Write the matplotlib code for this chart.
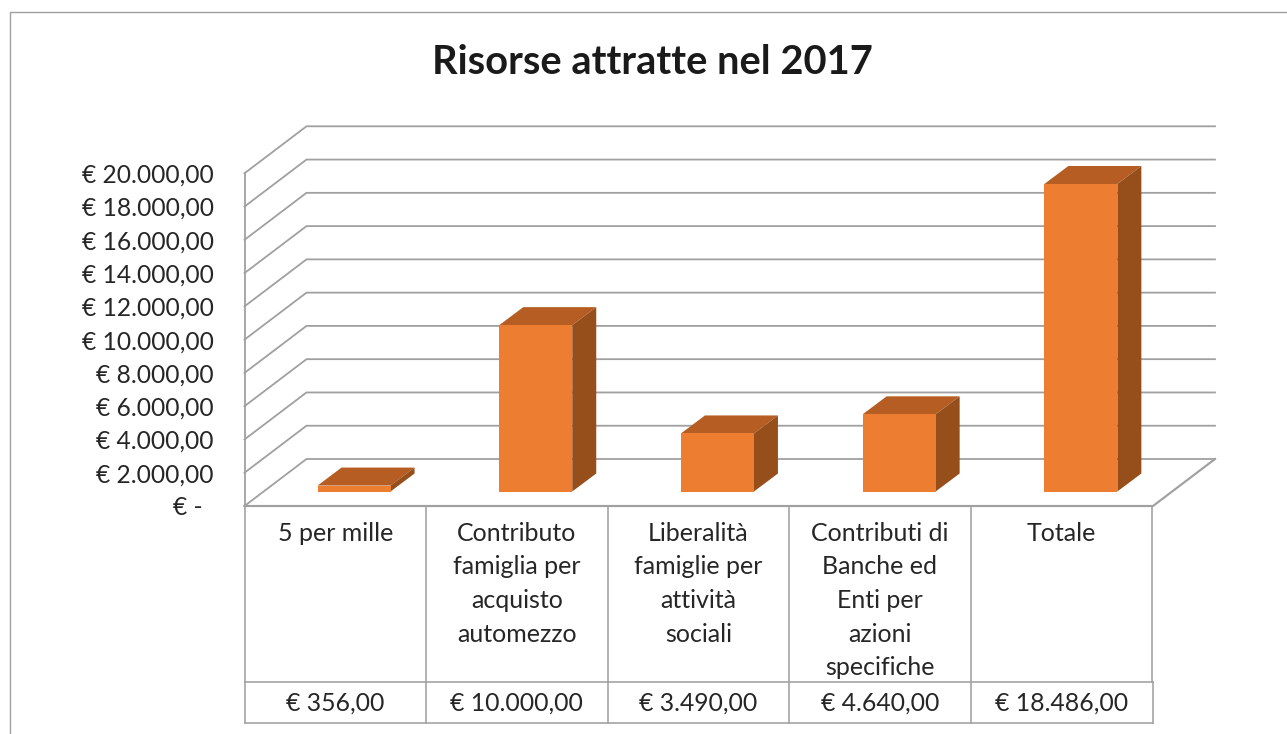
import matplotlib
matplotlib.use("Agg")
import matplotlib.pyplot as plt
from matplotlib.lines import Line2D
from matplotlib.transforms import Affine2D

title = "Risorse attratte nel 2017"
categories = [
    ["5 per mille"],
    ["Contributo", "famiglia per", "acquisto", "automezzo"],
    ["Liberalità", "famiglie per", "attività", "sociali"],
    ["Contributi di", "Banche ed", "Enti per", "azioni", "specifiche"],
    ["Totale"],
]
values = [356, 10000, 3490, 4640, 18486]
value_labels = ["€ 356,00", "€ 10.000,00", "€ 3.490,00", "€ 4.640,00", "€ 18.486,00"]
ticks = list(range(0, 20001, 2000))
tick_labels = ["", "€ 2.000,00", "€ 4.000,00", "€ 6.000,00", "€ 8.000,00", "€ 10.000,00",
               "€ 12.000,00", "€ 14.000,00", "€ 16.000,00", "€ 18.000,00", "€ 20.000,00"]

W, H = 1287, 734
FONT = "Lato"
plt.rcParams["font.family"] = [FONT, "DejaVu Sans"]
LINE = "#A0A0A0"
TEXT = "#262626"
FRONT, TOP, SIDE = "#ED7D31", "#B55D22", "#964F1B"
LW = 1.3

fig = plt.figure(figsize=(W / 100, H / 100), dpi=100, facecolor="white")
X0, X1, Y0, Y1 = 244.5, 1153, 506, 173.3
ax = fig.add_axes([X0 / W, 1 - Y0 / H, (X1 - X0) / W, (Y0 - Y1) / H])
ax.set_xlim(0, 5)
ax.set_ylim(0, 20000)
ax.patch.set_alpha(0)
for s in ax.spines.values():
    s.set_visible(False)
ax.set_xticks([])
ax.set_yticks(ticks, tick_labels, fontsize=17.7, color=TEXT)
ax.tick_params(axis="y", length=0, pad=22)

cat_px = (X1 - X0) / 5
val_px = (Y0 - Y1) / 20000
wall_dx, wall_dy = 62 / cat_px, 47 / val_px
bar_dx, bar_dy = 18.7 / cat_px, 14.5 / val_px
depth_dx, depth_dy = 24 / cat_px, 18 / val_px
bar_w = 73 / cat_px

# walls and gridlines
for v in ticks:
    ax.plot([0, wall_dx, 5 + wall_dx], [v, v + wall_dy, v + wall_dy],
            color=LINE, lw=LW, clip_on=False, zorder=1, solid_joinstyle="miter")
ax.plot([0, 0], [0, 20000], color=LINE, lw=LW, clip_on=False, zorder=1)
ax.plot([0, 5, 5 + wall_dx], [0, 0, wall_dy], color=LINE, lw=LW * 1.2, clip_on=False, zorder=1)

# 3D bars
for i, v in enumerate(values):
    xl = i + 0.5 + bar_dx - bar_w / 2
    xr = xl + bar_w
    b, t = bar_dy, bar_dy + v
    ax.bar(xl + bar_w / 2, v, bar_w, bottom=b, color=FRONT, zorder=3, clip_on=False)
    ax.fill([xl, xr, xr + depth_dx, xl + depth_dx], [t, t, t + depth_dy, t + depth_dy],
            color=TOP, lw=0, zorder=2, clip_on=False)
    ax.fill([xr, xr + depth_dx, xr + depth_dx, xr], [b, b + depth_dy, t + depth_dy, t],
            color=SIDE, lw=0, zorder=2, clip_on=False)

# pixel-space helper for frame and table
px = Affine2D().scale(1, -1).translate(0, H)


def seg(xs, ys, lw=1.15, color=LINE):
    fig.add_artist(Line2D(xs, ys, color=color, lw=lw, transform=px))


seg([9.5, 9.5, W], [H, 12, 12], lw=1.0)

# data table under the chart
edges = [X0 + 181.5 * i for i in range(6)]
R1, R2, R3 = 506, 681.5, 723
seg([edges[0], edges[0]], [R1, R2])
for e in edges[1:-1]:
    seg([e, e], [R1, R3])
seg([edges[-1], edges[-1]], [R1, R2])
seg([edges[0] + 0.5, edges[0] + 0.5], [R2, R3])
seg([edges[0], edges[-1] + 1], [R2, R2])
seg([edges[0], edges[-1] + 1], [R3, R3])
seg([edges[-1] + 1, edges[-1] + 1], [R2, R3])

for i, lines in enumerate(categories):
    cx = (edges[i] + edges[i + 1]) / 2
    for j, line in enumerate(lines):
        fig.text(cx, 533.5 + j * 33.5, line, transform=px, ha="center", va="center",
                 fontsize=18, color=TEXT)
    fig.text(cx, 703, value_labels[i], transform=px, ha="center", va="center",
             fontsize=17.8, color=TEXT)

fig.text(187.5, 507.5, "€ -", transform=px, ha="center", va="center", fontsize=17.7, color=TEXT)
fig.text(652.5, 62, title, transform=px, ha="center", va="center", fontsize=28.7,
         fontweight="bold", color="#1A1A1A")

fig.savefig("out.png", dpi=100, facecolor="white")
